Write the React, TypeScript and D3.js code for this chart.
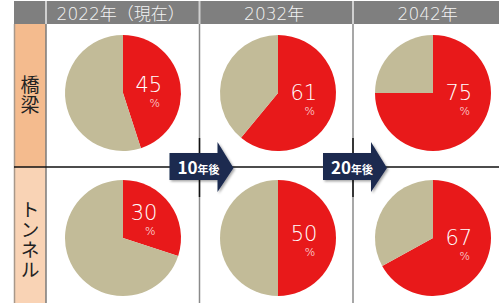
import React from 'react';
import * as d3 from 'd3';

const years = ['2022年（現在）', '2032年', '2042年'];
const facilities = ['橋梁', 'トンネル'];
// share of facilities 50+ years old, per facility, per year
const bridgeValues = [45, 61, 75];
const tunnelValues = [30, 50, 67];
const arrowLabels = [
  { num: '10', unit: '年後' },
  { num: '20', unit: '年後' },
];

const W = 499;
const H = 303;
const RED = '#E8191A';
const TAN = '#C2BB98';
const JP = '"Noto Sans CJK JP", "Noto Sans", sans-serif';
const THIN = '"DejaVu Sans", "Noto Sans CJK JP", sans-serif';

export default function App() {
  const colBand = d3.scaleBand<string>().domain(years).range([46, 506.5]);
  const pieX = d3.scalePoint<string>().domain(years).range([123, 433]);
  const pieY = d3.scalePoint<string>().domain(facilities).range([93, 238]);
  const rowBand = d3.scaleBand<string>().domain(facilities).range([24, 310]);
  const r = 58;

  const pie = d3.pie<number>().sort(null).startAngle(0).endAngle(2 * Math.PI);
  const arc = d3.arc<d3.PieArcDatum<number>>().innerRadius(0).outerRadius(r);

  const rows = [bridgeValues, tunnelValues];
  const rowFill = ['#F4BB8E', '#F9D3B5'];
  const midY = rowBand(facilities[1])!;

  return (
    <svg width={W} height={H} style={{ position: 'absolute', left: 0, top: 0 }}>
      <defs>
        <filter id="sh" x="-20%" y="-20%" width="150%" height="150%">
          <feDropShadow dx="1.5" dy="1.5" stdDeviation="1.2" floodColor="#000" floodOpacity="0.35" />
        </filter>
      </defs>
      <rect width={W} height={H} fill="#fff" />

      {/* header */}
      <rect x={14} y={1} width={W - 14} height={23} fill="#7F7F7F" />
      {years.map((y) => (
        <g key={y}>
          <line x1={colBand(y)} x2={colBand(y)} y1={1} y2={24} stroke="#d0d0d0" strokeWidth={2} />
          <text
            x={colBand(y)! + colBand.bandwidth() / 2 - 2}
            y={20}
            textAnchor="middle"
            fill="#f4f4f4"
            fontFamily={THIN}
            fontWeight={200}
            fontSize={17}
          >
            {y}
          </text>
        </g>
      ))}

      {/* row labels */}
      {facilities.map((f, i) => (
        <g key={f}>
          <rect x={14} y={rowBand(f)} width={32} height={rowBand.bandwidth()} fill={rowFill[i]} />
          <text
            x={30}
            y={pieY(f)! + 2}
            textAnchor="middle"
            dominantBaseline="central"
            style={{ writingMode: 'vertical-rl' }}
            fontFamily={JP}
            fontSize={19}
            letterSpacing={1}
            fill="#222"
          >
            {f}
          </text>
        </g>
      ))}
      <line x1={14.5} x2={14.5} y1={24} y2={H} stroke="#A8988A" strokeWidth={1.5} />
      <line x1={46} x2={46} y1={24} y2={H} stroke="#7a7a7a" strokeWidth={1.5} />

      {/* column separators */}
      {years.slice(1).map((y) => (
        <line key={y} x1={colBand(y)} x2={colBand(y)} y1={24} y2={H} stroke="#8a8a8a" strokeWidth={1.5} />
      ))}
      <line x1={14} x2={W} y1={midY} y2={midY} stroke="#111" strokeWidth={1.3} />

      {/* pies */}
      {facilities.map((f, i) =>
        years.map((y, j) => {
          const v = rows[i][j];
          const arcs = pie([v, 100 - v]);
          const red = arcs[0];
          const mid = Math.min((red.startAngle + red.endAngle) / 2, Math.PI * 0.55);
          const lr = r * 0.45;
          const lx = Math.sin(mid) * lr;
          const ly = -Math.cos(mid) * lr - (mid < 1.2 ? 6 : 0);
          return (
            <g key={f + y} transform={`translate(${pieX(y)},${pieY(f)})`}>
              {arcs.map((a, k) => (
                <path key={k} d={arc(a)!} fill={k === 0 ? RED : TAN} />
              ))}
              <text
                x={lx}
                y={ly + 3}
                textAnchor="middle"
                fill="#fff"
                fontFamily={THIN}
                fontWeight={200}
                fontSize={21}
              >
                {v}
              </text>
              <text
                x={lx + 6}
                y={ly + 18}
                textAnchor="middle"
                fill="#fff"
                fontFamily={THIN}
                fontWeight={200}
                fontSize={11}
              >
                %
              </text>
            </g>
          );
        })
      )}

      {/* arrows */}
      {arrowLabels.map((a, i) => {
        const bx = colBand(years[i + 1])!;
        const path = d3.path();
        path.moveTo(bx - 30, midY - 14);
        path.lineTo(bx + 18, midY - 14);
        path.lineTo(bx + 18, midY - 25);
        path.lineTo(bx + 34, midY + 1);
        path.lineTo(bx + 18, midY + 25);
        path.lineTo(bx + 18, midY + 13);
        path.lineTo(bx - 30, midY + 13);
        path.closePath();
        return (
          <g key={a.num}>
            <line x1={bx} x2={bx} y1={midY - 29} y2={midY + 30} stroke="#111" strokeWidth={1.5} />
            <path d={path.toString()} fill="#1B2A50" filter="url(#sh)" />
            <text
              x={bx - 1}
              y={midY + 7}
              textAnchor="middle"
              fill="#fff"
              fontFamily={JP}
              fontWeight={700}
            >
              <tspan fontSize={17}>{a.num}</tspan>
              <tspan fontSize={11}>{a.unit}</tspan>
            </text>
          </g>
        );
      })}
    </svg>
  );
}
